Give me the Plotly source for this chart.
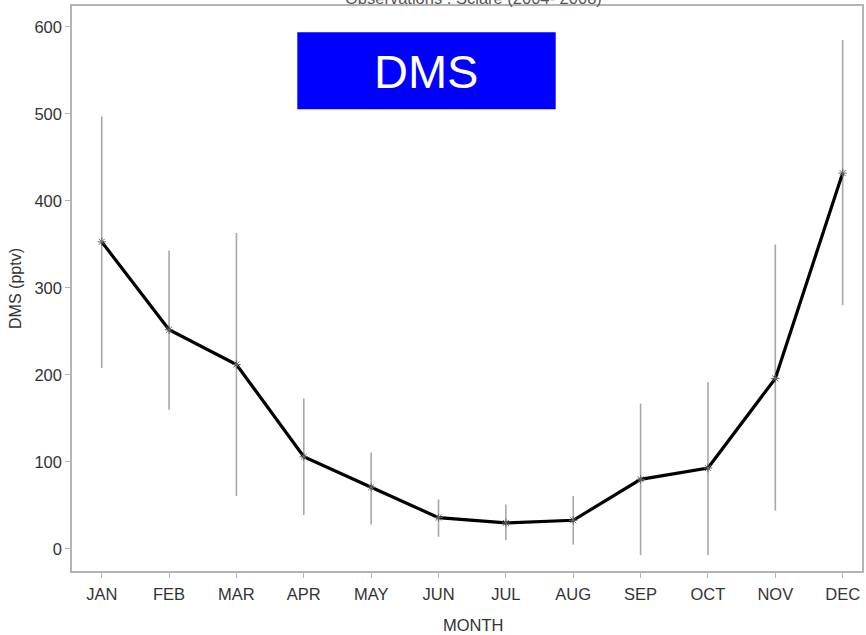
import plotly.graph_objects as go

# Monthly DMS climatology (pptv): mean with lower/upper range
months = ["JAN", "FEB", "MAR", "APR", "MAY", "JUN",
          "JUL", "AUG", "SEP", "OCT", "NOV", "DEC"]
dms_mean = [353, 252, 212, 106, 71, 36, 30, 33, 80, 93, 196, 432]
dms_upper = [497, 343, 363, 173, 111, 57, 51, 61, 167, 192, 350, 585]
dms_lower = [208, 160, 61, 39, 28, 14, 10, 5, -7, -7, 44, 280]

x_idx = list(range(len(months)))
err_plus = [u - m for u, m in zip(dms_upper, dms_mean)]
err_minus = [m - l for m, l in zip(dms_mean, dms_lower)]

FONT = "Liberation Sans, Arial, sans-serif"
AXIS_GREY = "#b4b4b4"
TEXT_GREY = "#333333"

fig = go.Figure()

# vertical range bars (drawn first so the mean line sits on top)
fig.add_trace(go.Scatter(
    x=x_idx, y=dms_mean, mode="markers",
    marker=dict(size=0.1, color="rgba(0,0,0,0)"),
    error_y=dict(type="data", symmetric=False,
                 array=err_plus, arrayminus=err_minus,
                 color="#a8a8a8", thickness=1.6, width=0),
    hoverinfo="skip", showlegend=False,
))

# monthly mean line
fig.add_trace(go.Scatter(
    x=x_idx, y=dms_mean, mode="lines+markers",
    line=dict(color="black", width=3.2),
    marker=dict(symbol="asterisk-open", size=7,
                line=dict(color="#666666", width=1), color="#666666"),
    showlegend=False,
))

# label box
fig.add_shape(type="rect", xref="paper", yref="paper",
              x0=0.2852, x1=0.6123, y0=0.8172, y1=0.9535,
              fillcolor="#0000ff", line=dict(width=0), layer="above")
fig.add_annotation(text="DMS", xref="paper", yref="paper",
                   x=0.4487, y=0.8832, xanchor="center", yanchor="middle",
                   showarrow=False,
                   font=dict(family=FONT, size=47, color="white"))

# chart title (partly above the frame)
fig.add_annotation(text="Observations : Sciare (2004- 2008)",
                   xref="paper", yref="paper", x=0.5087, y=1.0,
                   xanchor="center", yanchor="bottom", yshift=-3,
                   showarrow=False,
                   font=dict(family=FONT, size=16.5, color="#555555"))

# x-axis title placed below the month labels
fig.add_annotation(text="MONTH", xref="paper", yref="paper",
                   x=0.5087, y=-0.0956, xanchor="center", yanchor="middle",
                   showarrow=False,
                   font=dict(family=FONT, size=16.5, color=TEXT_GREY))

fig.update_layout(
    width=866, height=635,
    margin=dict(l=72, r=4, t=6, b=64),
    paper_bgcolor="white", plot_bgcolor="white",
    font=dict(family=FONT, size=16.5, color=TEXT_GREY),
    xaxis=dict(
        range=[-0.441, 11.287],
        tickmode="array", tickvals=x_idx, ticktext=months,
        showgrid=False, zeroline=False, automargin=False,
        showline=True, linecolor=AXIS_GREY, linewidth=1.5, mirror=True,
        ticks="outside", ticklen=5, tickcolor=AXIS_GREY, tickwidth=1,
        ticklabelstandoff=2,
        tickfont=dict(family=FONT, size=16.5, color=TEXT_GREY),
    ),
    yaxis=dict(
        range=[-25.3, 624],
        tickmode="array", tickvals=[0, 100, 200, 300, 400, 500, 600],
        showgrid=False, zeroline=False, automargin=False,
        showline=True, linecolor=AXIS_GREY, linewidth=1.5, mirror=True,
        ticks="outside", ticklen=5, tickcolor=AXIS_GREY, tickwidth=1,
        tickfont=dict(family=FONT, size=16.5, color=TEXT_GREY),
        title=dict(text="DMS (pptv)", standoff=9,
                   font=dict(family=FONT, size=16, color=TEXT_GREY)),
    ),
)

fig.write_html("out.html")
